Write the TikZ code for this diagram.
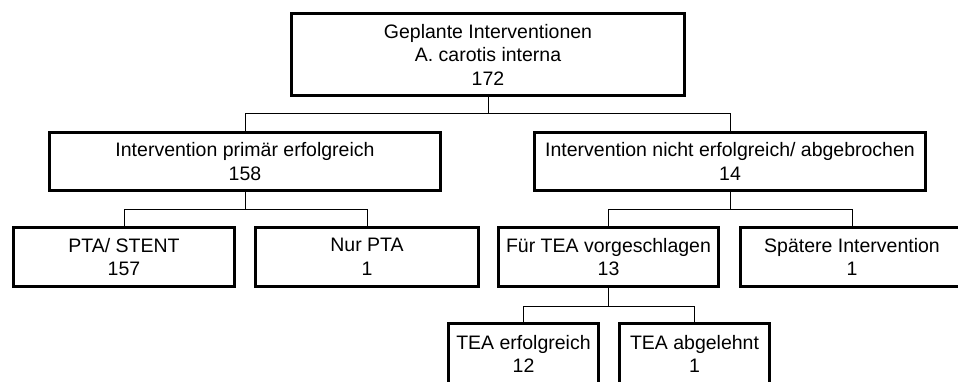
\documentclass[tikz,border=0pt]{standalone}
\usepackage{fontspec}
\setmainfont{Liberation Sans}
\begin{document}
\begin{tikzpicture}[x=1pt,y=-1pt,
  box/.style={draw=black,line width=3pt,inner sep=0pt,align=center,
    font=\fontsize{19.5}{23.5}\selectfont},
  link/.style={draw=black,line width=1pt}]
\useasboundingbox (0,0) rectangle (958,381);
\clip (0,0) rectangle (958,381);
\fill[white] (0,0) rectangle (958,381);
\node[box,minimum width=393pt,minimum height=82pt] (top) at (488,54.5)
  {Geplante Interventionen\\A. carotis interna\\172};
\node[box,minimum width=391pt,minimum height=58pt] (succ) at (245,161.5)
  {Intervention primär erfolgreich\\158};
\node[box,minimum width=391pt,minimum height=58pt] (fail) at (730,161.5)
  {Intervention nicht erfolgreich/ abgebrochen\\14};
\node[box,minimum width=221pt,minimum height=59pt] (stent) at (124,257)
  {PTA/ STENT\\157};
\node[box,minimum width=223pt,minimum height=59pt] (pta) at (367,257)
  {Nur PTA\\1};
\node[box,minimum width=220pt,minimum height=59pt] (tea) at (608.5,257)
  {Für TEA vorgeschlagen\\13};
\node[box,minimum width=223pt,minimum height=59pt] (later) at (852,257)
  {Spätere Intervention\\1};
\node[box,minimum width=150pt,minimum height=61pt] (teaok) at (523.5,354)
  {TEA erfolgreich\\12};
\node[box,minimum width=150pt,minimum height=61pt] (teano) at (694.5,354)
  {TEA abgelehnt\\1};
\draw[link] (top.south) -- ++(0,16) coordinate (j1);
\draw[link] (j1) -| (succ.north);
\draw[link] (j1) -| (fail.north);
\draw[link] (succ.south) -- ++(0,17) coordinate (j2);
\draw[link] (j2) -| (stent.north);
\draw[link] (j2) -| (pta.north);
\draw[link] (fail.south) -- ++(0,17) coordinate (j3);
\draw[link] (j3) -| (tea.north);
\draw[link] (j3) -| (later.north);
\draw[link] (tea.south) -- ++(0,18) coordinate (j4);
\draw[link] (j4) -| (teaok.north);
\draw[link] (j4) -| (teano.north);
\end{tikzpicture}
\end{document}
